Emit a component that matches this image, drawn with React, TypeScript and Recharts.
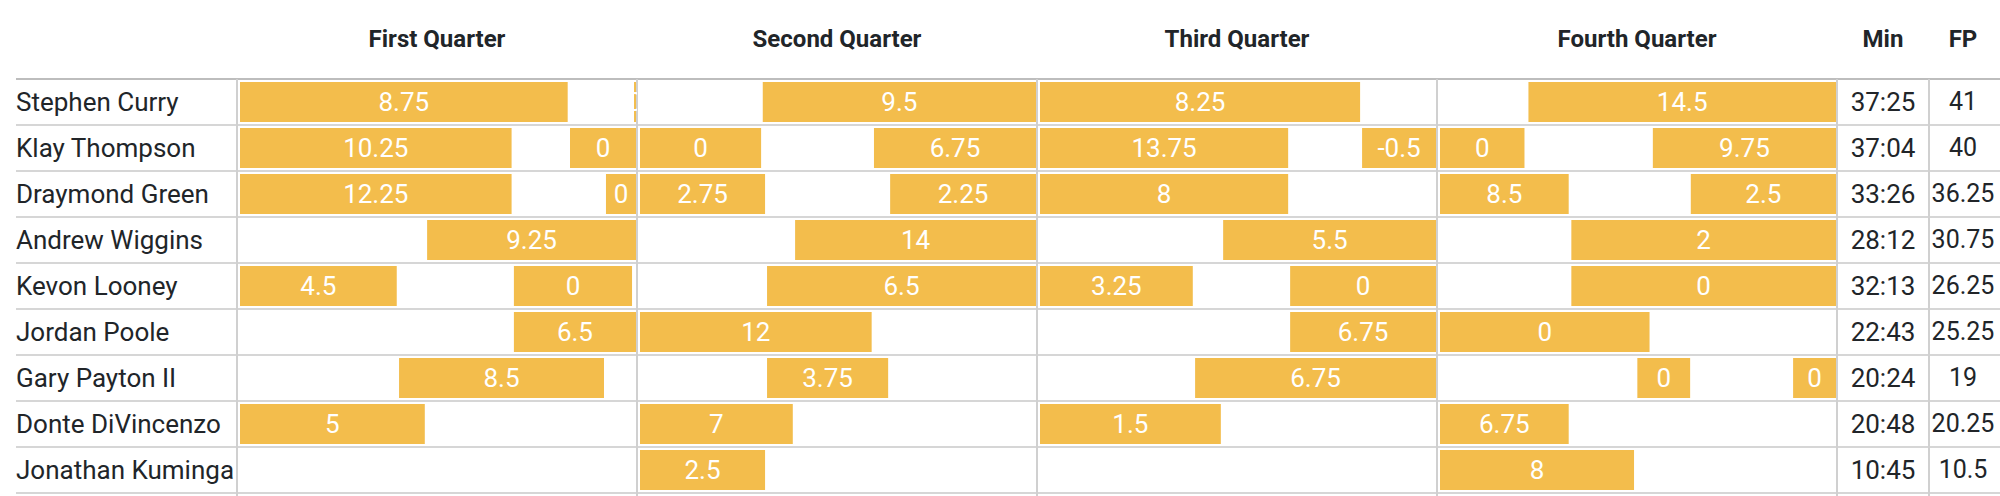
import React from "react";
import { BarChart, Bar, XAxis, YAxis, LabelList } from "recharts";

const players = [
  "Stephen Curry",
  "Klay Thompson",
  "Draymond Green",
  "Andrew Wiggins",
  "Kevon Looney",
  "Jordan Poole",
  "Gary Payton II",
  "Donte DiVincenzo",
  "Jonathan Kuminga",
];

const quarters = ["First Quarter", "Second Quarter", "Third Quarter", "Fourth Quarter"];

const minutesPlayed = ["37:25", "37:04", "33:26", "28:12", "32:13", "22:43", "20:24", "20:48", "10:45"];
const fantasyPoints = ["41", "40", "36.25", "30.75", "26.25", "25.25", "19", "20.25", "10.5"];

// stints: [player index, minute in, minute out, fantasy points]
const q1Stints = [
  [0, 0, 9.93, 8.75], [0, 11.94, 12, 0],
  [1, 0, 8.23, 10.25], [1, 10.0, 12, 0],
  [2, 0, 8.23, 12.25], [2, 11.09, 12, 0],
  [3, 5.67, 12, 9.25],
  [4, 0, 4.75, 4.5], [4, 8.3, 11.88, 0],
  [5, 8.3, 12, 6.5],
  [6, 4.82, 11.03, 8.5],
  [7, 0, 5.6, 5],
];
const q2Stints = [
  [0, 3.72, 12, 9.5],
  [1, 0, 3.67, 0], [1, 7.09, 12, 6.75],
  [2, 0, 3.79, 2.75], [2, 7.58, 12, 2.25],
  [3, 4.7, 12, 14],
  [4, 3.85, 12, 6.5],
  [5, 0, 7.02, 12],
  [6, 3.85, 7.52, 3.75],
  [7, 0, 4.63, 7],
  [8, 0, 3.79, 2.5],
];
const q3Stints = [
  [0, 0, 9.7, 8.25],
  [1, 0, 7.52, 13.75], [1, 9.76, 12, -0.5],
  [2, 0, 7.52, 8],
  [3, 5.55, 12, 5.5],
  [4, 0, 4.63, 3.25], [4, 7.58, 12, 0],
  [5, 7.58, 12, 6.75],
  [6, 4.7, 12, 6.75],
  [7, 0, 5.48, 1.5],
];
const q4Stints = [
  [0, 2.68, 12, 14.5],
  [1, 0, 2.56, 0], [1, 6.45, 12, 9.75],
  [2, 0, 3.9, 8.5], [2, 7.6, 12, 2.5],
  [3, 3.98, 12, 2],
  [4, 3.98, 12, 0],
  [5, 0, 6.35, 0],
  [6, 5.98, 7.58, 0], [6, 10.7, 12, 0],
  [7, 0, 3.9, 6.75],
  [8, 0, 5.88, 8],
];

const allStints = [q1Stints, q2Stints, q3Stints, q4Stints];

const GOLD = "#f3bd4c";
const TEXT = "#212529";
const ROW_H = 46;
const TOP = 79;
const NAME_RIGHT = 237;
const Q_W = 400;
const MIN_X = 1837;
const FP_X = 1929;

function buildRows(stints: number[][]) {
  return players.map((name, i) => {
    const mine = stints.filter((s) => s[0] === i);
    const a = mine[0];
    const b = mine[1];
    return {
      name,
      a: a ? [a[1], a[2]] : null,
      aFp: a ? a[3] : null,
      b: b ? [b[1], b[2]] : null,
      bFp: b ? b[3] : null,
    };
  });
}

function QuarterChart({ stints }: { stints: number[][] }) {
  const rows = buildRows(stints);
  return (
    <BarChart
      layout="vertical"
      width={Q_W}
      height={ROW_H * players.length}
      data={rows}
      margin={{ top: 0, right: 1, bottom: 0, left: 3 }}
      barSize={40}
      barGap={-40}
    >
      <XAxis type="number" domain={[0, 12]} hide allowDataOverflow />
      <YAxis type="category" dataKey="name" hide />
      <Bar dataKey="a" fill={GOLD} isAnimationActive={false}>
        <LabelList dataKey="aFp" position="center" fill="#fff" stroke="none" fontSize={26} />
      </Bar>
      <Bar dataKey="b" fill={GOLD} isAnimationActive={false}>
        <LabelList dataKey="bFp" position="center" fill="#fff" stroke="none" fontSize={26} />
      </Bar>
    </BarChart>
  );
}

export default function App() {
  const vLines = [NAME_RIGHT, 637, 1037, 1437, MIN_X, FP_X];
  const bottom = TOP + ROW_H * players.length;
  const sideCols: [string, number, number][] = [
    ["Min", MIN_X, FP_X - MIN_X],
    ["FP", FP_X, 1997 - FP_X],
  ];
  return (
    <div
      style={{
        position: "absolute",
        left: 0,
        top: 0,
        width: 2000,
        height: 496,
        background: "#fff",
        fontFamily: "Roboto, sans-serif",
        color: TEXT,
        overflow: "hidden",
      }}
    >
      {/* header */}
      {quarters.map((q, i) => (
        <div
          key={q}
          style={{
            position: "absolute",
            left: NAME_RIGHT + i * Q_W,
            top: 0,
            width: Q_W,
            height: TOP,
            lineHeight: `${TOP}px`,
            textAlign: "center",
            fontWeight: 700,
            fontSize: 24,
          }}
        >
          {q}
        </div>
      ))}
      {sideCols.map(([t, x, w]) => (
        <div
          key={t}
          style={{
            position: "absolute",
            left: x,
            top: 0,
            width: w,
            height: TOP,
            lineHeight: `${TOP}px`,
            textAlign: "center",
            fontWeight: 700,
            fontSize: 24,
          }}
        >
          {t}
        </div>
      ))}

      {/* grid lines */}
      <div style={{ position: "absolute", left: 16, top: TOP - 1, width: 1984, height: 2, background: "#bdbdbd" }} />
      {players.map((p, i) => (
        <div
          key={"h" + p}
          style={{
            position: "absolute",
            left: 16,
            top: TOP + ROW_H * (i + 1) - 1,
            width: 1984,
            height: 2,
            background: "#d6d6d6",
          }}
        />
      ))}
      {vLines.map((x) => (
        <div
          key={"v" + x}
          style={{ position: "absolute", left: x - 1, top: TOP, width: 2, height: 496 - TOP, background: "#d0d0d0" }}
        />
      ))}

      {/* rows text */}
      {players.map((p, i) => (
        <React.Fragment key={p}>
          <div
            style={{
              position: "absolute",
              left: 16,
              top: TOP + ROW_H * i,
              height: ROW_H,
              lineHeight: `${ROW_H}px`,
              fontSize: 26,
              whiteSpace: "nowrap",
            }}
          >
            {p}
          </div>
          {[minutesPlayed[i], fantasyPoints[i]].map((v, j) => (
            <div
              key={j}
              style={{
                position: "absolute",
                left: sideCols[j][1],
                width: sideCols[j][2],
                top: TOP + ROW_H * i,
                height: ROW_H,
                lineHeight: `${ROW_H}px`,
                fontSize: j === 0 ? 26 : 25,
                textAlign: "center",
              }}
            >
              {v}
            </div>
          ))}
        </React.Fragment>
      ))}

      {/* quarter charts */}
      {allStints.map((s, i) => (
        <div key={i} style={{ position: "absolute", left: NAME_RIGHT + i * Q_W, top: TOP, height: bottom - TOP }}>
          <QuarterChart stints={s} />
        </div>
      ))}
    </div>
  );
}
